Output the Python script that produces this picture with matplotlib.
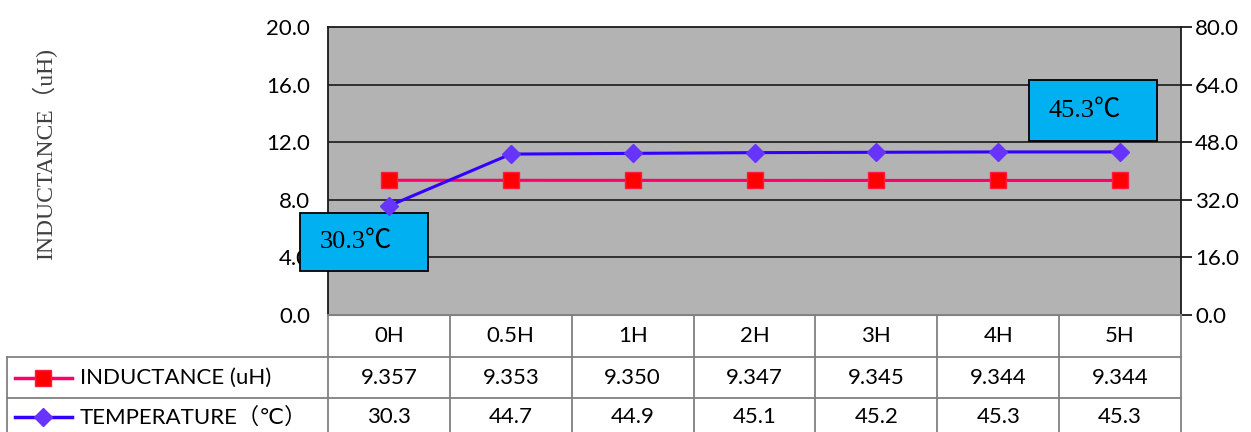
#!/usr/bin/env python3
"""
Inductance and temperature over time, with a data table below the plot
"""

import matplotlib
matplotlib.use("Agg")
import matplotlib.pyplot as plt
from matplotlib.patches import Rectangle
from matplotlib.lines import Line2D

# Data
hours = ["0H", "0.5H", "1H", "2H", "3H", "4H", "5H"]
inductance = [9.357, 9.353, 9.350, 9.347, 9.345, 9.344, 9.344]
temperature = [30.3, 44.7, 44.9, 45.1, 45.2, 45.3, 45.3]
left_ticks = [0, 4, 8, 12, 16, 20]
right_ticks = [0, 16, 32, 48, 64, 80]

W, H = 1251, 432
SANS = ["Lato", "DejaVu Sans", "Noto Sans CJK SC"]
SERIF = ["Liberation Serif", "Noto Sans CJK SC", "DejaVu Serif"]
FS = 16
IND_LINE, IND_MARK = "#ff0066", "#ff0000"
TMP_LINE, TMP_MARK = "#3300ff", "#6633ff"
GRID = "#808080"

fig = plt.figure(figsize=(W / 100, H / 100), dpi=100)

# plot area in pixels
px0, px1, py0, py1 = 328, 1181, 27, 315
ax = fig.add_axes([px0 / W, (H - py1) / H, (px1 - px0) / W, (py1 - py0) / H])
ax.set_facecolor("#b3b3b3")
x = list(range(len(hours)))
ax.set_xlim(-0.5, len(hours) - 0.5)
ax.set_ylim(0, 20)
ax.set_yticks(left_ticks)
ax.set_yticklabels([f"{t:.1f}" for t in left_ticks], family=SANS, fontsize=FS)
ax.tick_params(axis="y", length=0, pad=13)
ax.set_xticks([])
for t in left_ticks[1:-1]:
    ax.axhline(t, color="#1a1a1a", lw=1.2, zorder=1)
for side in ["left", "top"]:
    ax.spines[side].set_color("#1a1a1a")
    ax.spines[side].set_linewidth(1.3)
ax.spines["bottom"].set_color(GRID)
ax.spines["right"].set_visible(False)
ax.set_ylabel("INDUCTANCE（uH)", family=SERIF, fontsize=17, color="#404040", labelpad=0)
ax.yaxis.set_label_coords(-0.318, 0.56)

ax.plot(x, inductance, color=IND_LINE, lw=2.2, marker="s", ms=12,
        mfc=IND_MARK, mec="#ff1a40", mew=1, zorder=4, clip_on=False)

ax2 = ax.twinx()
ax2.set_ylim(0, 80)
ax2.set_yticks(right_ticks)
ax2.set_yticklabels([f"{t:.1f}" for t in right_ticks], family=SANS, fontsize=FS)
ax2.tick_params(axis="y", length=8, width=1.3, color="#1a1a1a", pad=2)
for side in ["left", "top", "bottom"]:
    ax2.spines[side].set_visible(False)
ax2.spines["right"].set_color("#1a1a1a")
ax2.spines["right"].set_linewidth(1.3)
ax2.plot(x, temperature, color=TMP_LINE, lw=2.2, marker="D", ms=9,
         mfc=TMP_MARK, mec=TMP_MARK, zorder=4, clip_on=False)

# callout boxes for first and last temperature
callouts = [(-0.73, 0.32, 3.06, 7.08, temperature[0]),
            (5.25, 6.30, 12.08, 16.32, temperature[-1])]
for bx0, bx1, by0, by1, val in callouts:
    ax.add_patch(Rectangle((bx0, by0), bx1 - bx0, by1 - by0, facecolor="#00b0f0",
                           edgecolor="black", lw=1.3, zorder=6, clip_on=False))
    ax.text(bx0 + 0.16, (by0 + by1) / 2, f"{val}℃", family=SERIF, fontsize=19,
            ha="left", va="center", zorder=7, clip_on=False)

# data table under the plot, laid out in pixel units
tax = fig.add_axes([0, 0, 1, (H - py1) / H])
tax.set_xlim(0, W)
tax.set_ylim(H, py1)
tax.axis("off")
col_w = (px1 - px0) / len(hours)
edges = [px0 + i * col_w for i in range(len(hours) + 1)]
rows = [315, 357, 398, 440]
lab_x0 = 7
kw = dict(color=GRID, lw=1.3, clip_on=False)
tax.plot([px0, px1], [rows[0], rows[0]], **kw)
for r in rows[1:3]:
    tax.plot([lab_x0, px1], [r, r], **kw)
for e in edges:
    tax.plot([e, e], [rows[0], rows[-1]], **kw)
tax.plot([lab_x0, lab_x0], [rows[1], rows[-1]], **kw)

ym0 = (rows[0] + rows[1]) / 2
ym1 = (rows[1] + rows[2]) / 2
ym2 = (rows[2] + 432) / 2 + 2
for i, h in enumerate(hours):
    cx = px0 + (i + 0.5) * col_w
    tax.text(cx, ym0, h, family=SANS, fontsize=FS, ha="center", va="center")
    tax.text(cx, ym1, f"{inductance[i]:.3f}", family=SANS, fontsize=FS, ha="center", va="center")
    tax.text(cx, ym2, f"{temperature[i]:.1f}", family=SANS, fontsize=FS, ha="center", va="center")

# legend keys inside the table
tax.add_line(Line2D([15, 72], [ym1, ym1], color=IND_LINE, lw=2.5))
tax.add_line(Line2D([43], [ym1], marker="s", ms=12, mfc=IND_MARK, mec="#ff1a40", lw=0))
tax.add_line(Line2D([15, 72], [ym2, ym2], color=TMP_LINE, lw=2.5))
tax.add_line(Line2D([43], [ym2], marker="D", ms=9, mfc=TMP_MARK, mec=TMP_MARK, lw=0))
tax.text(80, ym1, "INDUCTANCE (uH)", family=SANS, fontsize=FS, ha="left", va="center")
tax.text(80, ym2, "TEMPERATURE（℃）", family=SANS, fontsize=FS, ha="left", va="center")

fig.savefig("out.png", dpi=100)
